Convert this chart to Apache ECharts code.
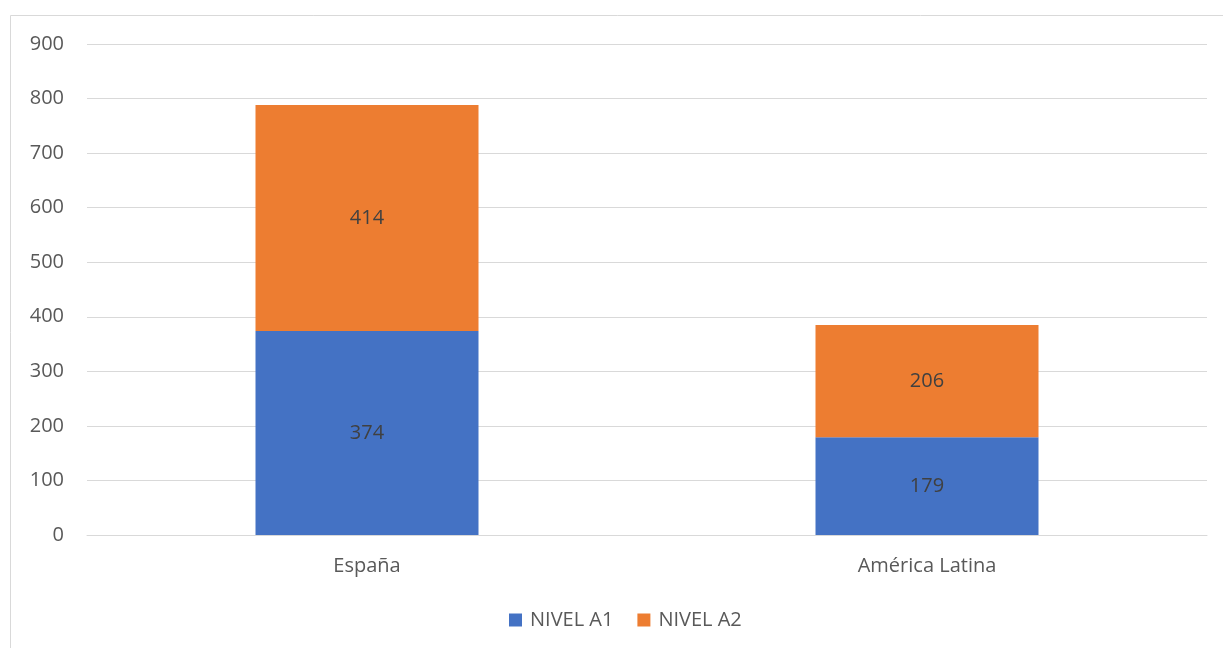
<!DOCTYPE html>
<html>
<head>
<meta charset="utf-8">
<script src="https://cdn.jsdelivr.net/npm/echarts@6/dist/echarts.min.js"></script>
<style>
html, body { margin: 0; padding: 0; background: #fff; }
#chart { width: 1223px; height: 648px; }
</style>
</head>
<body>
<div id="chart"></div>
<script>
const categories = ['España', 'América Latina']
const nivelA1 = [374, 179]
const nivelA2 = [414, 206]

const chart = echarts.init(document.getElementById('chart'))
const font = '"Open Sans", sans-serif'

chart.setOption({
	animation: false,
	textStyle: { fontFamily: font },
	graphic: [{
		type: 'rect',
		shape: { x: 10.5, y: 15.5, width: 1240, height: 660 },
		style: { fill: 'none', stroke: '#d9d9d9', lineWidth: 1 },
		silent: true
	}],
	grid: { left: 87, right: 16, top: 44, bottom: 113 },
	legend: {
		top: 605,
		left: 504,
		itemWidth: 13,
		itemHeight: 13,
		itemGap: 24,
		icon: 'rect',
		textStyle: { color: '#595959', fontSize: 20, fontFamily: font, padding: [0, 0, 0, 3] }
	},
	xAxis: {
		type: 'category',
		data: categories,
		axisTick: { show: false },
		axisLine: { lineStyle: { color: '#d9d9d9' } },
		axisLabel: { color: '#595959', fontSize: 20, margin: 21, fontFamily: font }
	},
	yAxis: {
		type: 'value',
		min: 0,
		max: 900,
		interval: 100,
		axisLabel: { color: '#595959', fontSize: 20, margin: 23, fontFamily: font },
		splitLine: { lineStyle: { color: '#d9d9d9', width: 1 } }
	},
	series: [
		{
			name: 'NIVEL A1',
			type: 'bar',
			stack: 'total',
			barWidth: 223,
			data: nivelA1,
			itemStyle: { color: '#4472c4' },
			label: { show: true, position: 'inside', color: '#404040', fontSize: 20, fontFamily: font }
		},
		{
			name: 'NIVEL A2',
			type: 'bar',
			stack: 'total',
			barWidth: 223,
			data: nivelA2,
			itemStyle: { color: '#ed7d31' },
			label: { show: true, position: 'inside', color: '#404040', fontSize: 20, fontFamily: font }
		}
	]
})
</script>
</body>
</html>
